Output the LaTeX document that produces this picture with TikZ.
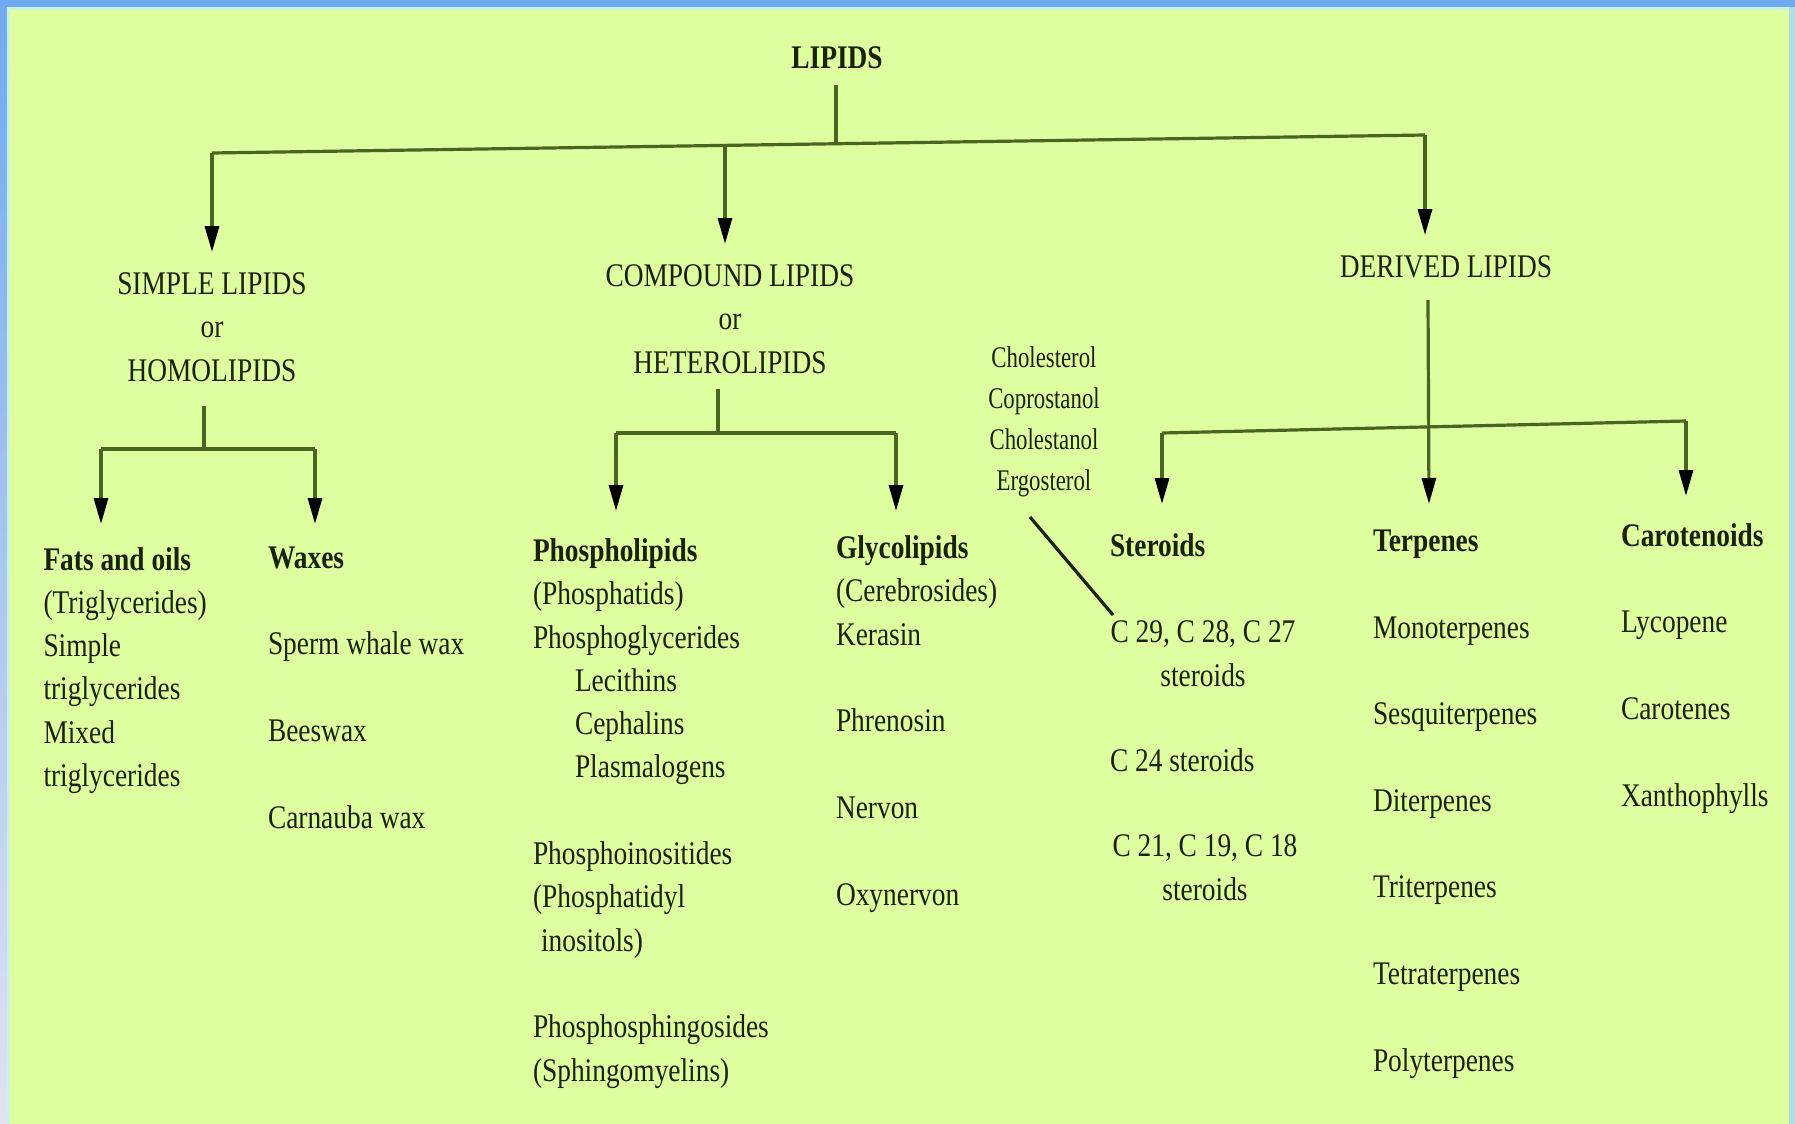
\documentclass[tikz,border=0pt]{standalone}
\usepackage{fontspec}
\setmainfont{Liberation Serif}[FakeStretch=0.83]
\newfontfamily\cholfont{Liberation Serif}[FakeStretch=0.76]
\usetikzlibrary{arrows.meta}
\definecolor{bgc}{RGB}{222,254,160}
\definecolor{txtc}{RGB}{26,34,14}
\definecolor{linec}{RGB}{74,100,34}
\definecolor{blueb}{RGB}{112,170,238}
\definecolor{cyanb}{RGB}{200,244,228}
\definecolor{lavb}{RGB}{226,226,244}
\begin{document}
\begin{tikzpicture}[x=0.5pt,y=-0.5pt,
  txt/.style={inner sep=0pt, outer sep=0pt, text=txtc, font=\fontsize{16.5}{21.65}\selectfont},
  col/.style={txt, align=left, anchor=base west},
  ctr/.style={txt, align=center, anchor=base},
  small/.style={txt, align=center, anchor=base, font=\cholfont\fontsize{15}{20.5}\selectfont},
  conn/.style={draw=linec, line width=1.6pt},
  arr/.style={conn, -{Triangle[width=7pt,length=13pt,color=black]}}
]
\useasboundingbox (0,0) rectangle (1795,1124);
\fill[bgc] (0,0) rectangle (1795,1124);
% frame
\shade[top color=blueb, bottom color=lavb] (0,0) rectangle (7,1124);
\fill[cyanb] (7,7) rectangle (10,1124);
\fill[blueb] (0,0) rectangle (1795,7);
\fill[cyanb] (7,7) rectangle (1795,10);
\fill[cyanb!70!blueb] (1789,7) rectangle (1795,1124);

% multi-line nodes are placed by the baseline of their LAST line
% ---------- title and main categories ----------
\node[txt, font=\fontsize{16.5}{21.65}\selectfont\bfseries] (lipids) at (837,58) {LIPIDS};
\node[ctr] (simple) at (212,381) {SIMPLE LIPIDS\\or\\HOMOLIPIDS};
\node[ctr] (compound) at (730,373) {COMPOUND LIPIDS\\or\\HETEROLIPIDS};
\node[ctr] (derived) at (1446,277) {DERIVED LIPIDS};

\coordinate (lipStem) at (836,85);
\coordinate (busM) at (836,143);
\coordinate (busL) at (212,153);
\coordinate (busC) at (725,145);
\coordinate (busR) at (1425,135);
\coordinate (simpleTip) at (212,252);
\coordinate (compTip) at (725,244);
\coordinate (derTip) at (1425,235);

\draw[conn] (lipStem) -- (busM);
\draw[conn] (busL) -- (busR);
\draw[arr] (busL) -- (simpleTip);
\draw[arr] (busC) -- (compTip);
\draw[arr] (busR) -- (derTip);

% ---------- simple lipids ----------
\node[col] (fats) at (43.5,786.5) {\textbf{Fats and oils}\\(Triglycerides)\\Simple\\triglycerides\\Mixed\\triglycerides};
\node[col] (waxes) at (268,828) {\textbf{Waxes}\\[21.65pt]Sperm whale wax\\[21.65pt]Beeswax\\[21.65pt]Carnauba wax};

\coordinate (sStem) at (204,406);
\coordinate (sBus) at (204,449);
\coordinate (sBusL) at (101,449);
\coordinate (sBusR) at (315,449);
\coordinate (fatsTip) at (101,524);
\coordinate (waxTip) at (315,524);
\draw[conn] (sStem) -- (sBus);
\draw[conn] (sBusL) -- (sBusR);
\draw[arr] (sBusL) -- (fatsTip);
\draw[arr] (sBusR) -- (waxTip);

% ---------- compound lipids ----------
\node[col] (phospho) at (533,1081) {\textbf{Phospholipids}\\(Phosphatids)\\Phosphoglycerides\\\hspace*{21pt}Lecithins\\\hspace*{21pt}Cephalins\\\hspace*{21pt}Plasmalogens\\[21.65pt]Phosphoinositides\\(Phosphatidyl\\\hspace*{4pt}inositols)\\[21.65pt]Phosphosphingosides\\(Sphingomyelins)};
\node[col] (glyco) at (836,905) {\textbf{Glycolipids}\\(Cerebrosides)\\Kerasin\\[21.65pt]Phrenosin\\[21.65pt]Nervon\\[21.65pt]Oxynervon};

\coordinate (cStem) at (718,389);
\coordinate (cBus) at (718,433);
\coordinate (cBusL) at (616,433);
\coordinate (cBusR) at (896,433);
\coordinate (phosTip) at (616,511);
\coordinate (glycoTip) at (896,511);
\draw[conn] (cStem) -- (cBus);
\draw[conn] (cBusL) -- (cBusR);
\draw[arr] (cBusL) -- (phosTip);
\draw[arr] (cBusR) -- (glycoTip);

% ---------- derived lipids ----------
\node[small] (chol) at (1044,490) {Cholesterol\\Coprostanol\\Cholestanol\\Ergosterol};
\node[col] (steroids) at (1110,556) {\textbf{Steroids}};
\node[ctr] (c29) at (1203,686) {C 29, C 28, C 27\\steroids};
\node[col] (c24) at (1110,771) {C 24 steroids};
\node[ctr] (c21) at (1205,900) {C 21, C 19, C 18\\steroids};
\node[col] (terpenes) at (1373,1071) {\textbf{Terpenes}\\[21.65pt]Monoterpenes\\[21.65pt]Sesquiterpenes\\[21.65pt]Diterpenes\\[21.65pt]Triterpenes\\[21.65pt]Tetraterpenes\\[21.65pt]Polyterpenes};
\node[col] (carot) at (1621,806) {\textbf{Carotenoids}\\[21.65pt]Lycopene\\[21.65pt]Carotenes\\[21.65pt]Xanthophylls};

\coordinate (dStem) at (1428,300);
\coordinate (dBusL) at (1162,433);
\coordinate (dBusR) at (1686,421);
\coordinate (stTip) at (1162,504);
\coordinate (teTip) at (1429,504);
\coordinate (caTip) at (1686,496);
\draw[conn] (dBusL) -- (dBusR);
\draw[arr] (dStem) -- (teTip);
\draw[arr] (dBusL) -- (stTip);
\draw[arr] (dBusR) -- (caTip);

\coordinate (diagA) at (1030,517);
\coordinate (diagB) at (1113,615);
\draw[conn, draw=txtc] (diagA) -- (diagB);
\end{tikzpicture}
\end{document}
